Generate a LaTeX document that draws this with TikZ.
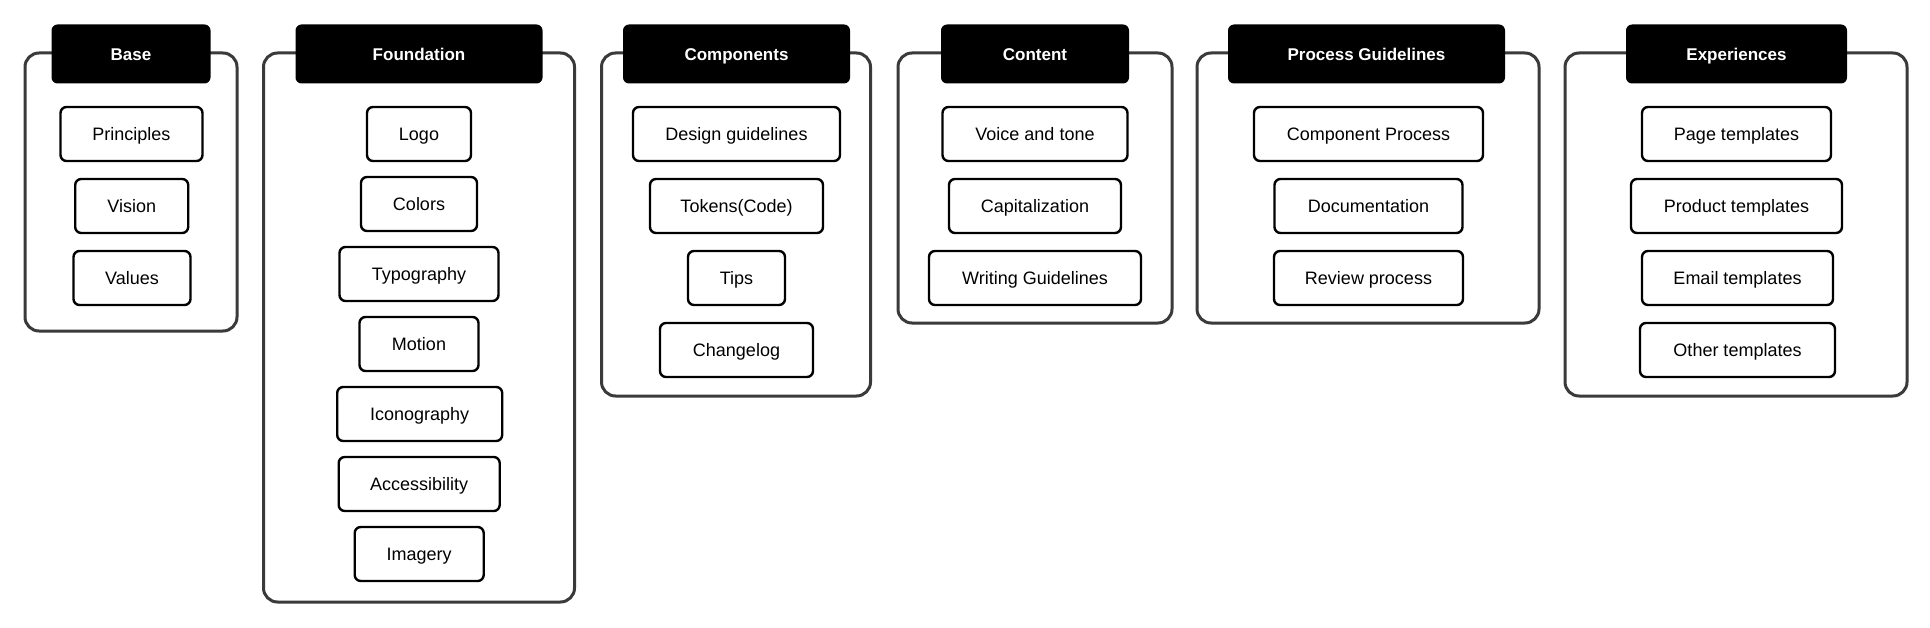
\documentclass[tikz,border=0pt]{standalone}
\usepackage{fontspec}
\setmainfont{Liberation Sans}
\definecolor{outergray}{HTML}{3A3A3A}
\begin{document}
\begin{tikzpicture}[x=1pt,y=-1pt,
  outerbox/.style={draw=outergray, line width=3pt, rounded corners=14pt, inner sep=0pt},
  headbox/.style={fill=black, rounded corners=6pt, text=white, inner sep=0pt,
    minimum height=59pt, text height=12.2pt, text depth=0pt,
    font=\fontsize{17}{20}\selectfont\bfseries},
  itembox/.style={draw=black, fill=white, line width=2.4pt, rounded corners=6pt, inner sep=0pt,
    minimum height=54pt, text height=12.9pt, text depth=0pt,
    font=\fontsize{18}{21}\selectfont}
]
\useasboundingbox (0,0) rectangle (1930,628);
\fill[white] (0,0) rectangle (1930,628);

% Base
\node[outerbox, minimum width=212pt, minimum height=278pt] (baseO) at (131,192) {};
\node[headbox, minimum width=159pt] (baseH) at (131,54) {Base};
\node[itembox, minimum width=142pt] (principles) at (131.5,134) {Principles};
\node[itembox, minimum width=113pt] (vision) at (131.7,206) {Vision};
\node[itembox, minimum width=117pt] (values) at (132,278) {Values};

% Foundation
\node[outerbox, minimum width=311pt, minimum height=549pt] (foundO) at (419,327.5) {};
\node[headbox, minimum width=247pt] (foundH) at (419,54) {Foundation};
\node[itembox, minimum width=104pt] (logo) at (419,134) {Logo};
\node[itembox, minimum width=116pt] (colors) at (419,204) {Colors};
\node[itembox, minimum width=159pt] (typo) at (419,274) {Typography};
\node[itembox, minimum width=119pt] (motion) at (419,344) {Motion};
\node[itembox, minimum width=165pt] (icono) at (419.7,414) {Iconography};
\node[itembox, minimum width=161pt] (access) at (419.2,484) {Accessibility};
\node[itembox, minimum width=129pt] (imagery) at (419.2,554) {Imagery};

% Components
\node[outerbox, minimum width=269pt, minimum height=343pt] (compO) at (736,224.5) {};
\node[headbox, minimum width=227pt] (compH) at (736.5,54) {Components};
\node[itembox, minimum width=207pt] (design) at (736.5,134) {Design guidelines};
\node[itembox, minimum width=173pt] (tokens) at (736.5,206) {Tokens(Code)};
\node[itembox, minimum width=97pt] (tips) at (736.5,278) {Tips};
\node[itembox, minimum width=153pt] (changelog) at (736.5,350) {Changelog};

% Content
\node[outerbox, minimum width=274pt, minimum height=270pt] (contO) at (1035,188) {};
\node[headbox, minimum width=188pt] (contH) at (1035,54) {Content};
\node[itembox, minimum width=185pt] (voice) at (1035,134) {Voice and tone};
\node[itembox, minimum width=172pt] (capital) at (1035,206) {Capitalization};
\node[itembox, minimum width=212pt] (writing) at (1035,278) {Writing Guidelines};

% Process Guidelines
\node[outerbox, minimum width=342pt, minimum height=270pt] (procO) at (1368,188) {};
\node[headbox, minimum width=277pt] (procH) at (1366.5,54) {Process Guidelines};
\node[itembox, minimum width=229pt] (compproc) at (1368.5,134) {Component Process};
\node[itembox, minimum width=188pt] (docu) at (1368.5,206) {Documentation};
\node[itembox, minimum width=189pt] (review) at (1368.5,278) {Review process};

% Experiences
\node[outerbox, minimum width=342pt, minimum height=343pt] (expO) at (1736,224.5) {};
\node[headbox, minimum width=221pt] (expH) at (1736.5,54) {Experiences};
\node[itembox, minimum width=189pt] (page) at (1736.5,134) {Page templates};
\node[itembox, minimum width=211pt] (product) at (1736.5,206) {Product templates};
\node[itembox, minimum width=191pt] (email) at (1737.5,278) {Email templates};
\node[itembox, minimum width=195pt] (other) at (1737.5,350) {Other templates};
\end{tikzpicture}
\end{document}
